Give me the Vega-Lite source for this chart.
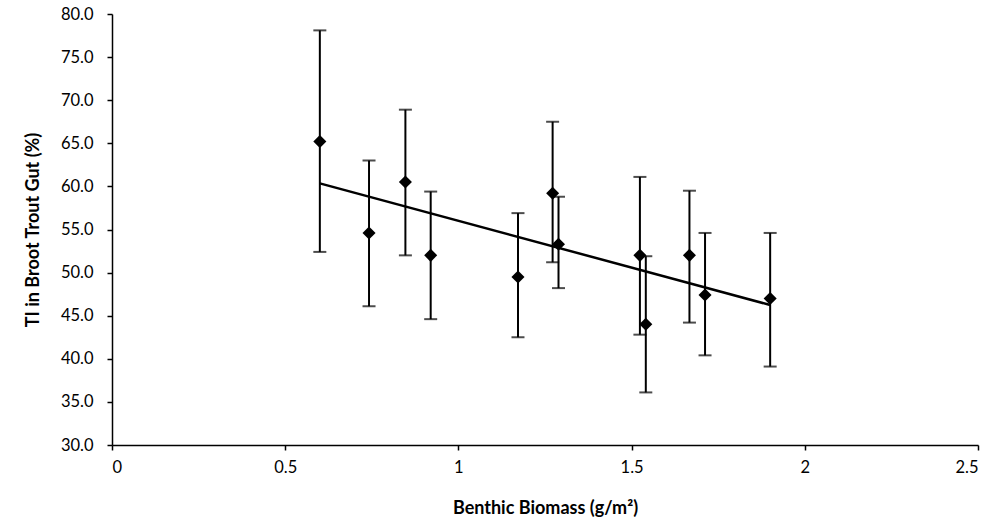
{
  "$schema": "https://vega.github.io/schema/vega-lite/v6.json",
  "width": 866,
  "height": 431,
  "autosize": {"type": "none"},
  "padding": {"left": 112, "top": 14, "right": 13, "bottom": 77},
  "background": "white",
  "config": {
    "view": {"stroke": null},
    "axis": {
      "grid": false,
      "domainColor": "black",
      "domainWidth": 1.5,
      "tickColor": "black",
      "tickWidth": 1.5,
      "tickSize": 5,
      "labelFont": "Lato",
      "labelFontSize": 16.5,
      "labelColor": "#000000",
      "titleFont": "Lato",
      "titleFontSize": 18,
      "titleFontWeight": "bold",
      "titleColor": "#000000"
    }
  },
  "datasets": {
    "points": [
      {"biomass": 0.600, "ti": 65.2, "lo": 52.4, "hi": 78.1},
      {"biomass": 0.742, "ti": 54.6, "lo": 46.1, "hi": 63.0},
      {"biomass": 0.847, "ti": 60.5, "lo": 52.0, "hi": 68.9},
      {"biomass": 0.920, "ti": 52.0, "lo": 44.6, "hi": 59.4},
      {"biomass": 1.172, "ti": 49.5, "lo": 42.5, "hi": 56.9},
      {"biomass": 1.272, "ti": 59.2, "lo": 51.2, "hi": 67.5},
      {"biomass": 1.289, "ti": 53.3, "lo": 48.2, "hi": 58.8},
      {"biomass": 1.524, "ti": 52.0, "lo": 42.8, "hi": 61.1},
      {"biomass": 1.541, "ti": 44.0, "lo": 36.1, "hi": 51.9},
      {"biomass": 1.667, "ti": 52.0, "lo": 44.2, "hi": 59.5},
      {"biomass": 1.712, "ti": 47.4, "lo": 40.4, "hi": 54.6},
      {"biomass": 1.900, "ti": 47.0, "lo": 39.1, "hi": 54.6}
    ],
    "trend": [
      {"biomass": 0.600, "ti": 60.35},
      {"biomass": 1.900, "ti": 46.24}
    ]
  },
  "layer": [
    {
      "data": {"name": "points"},
      "mark": {"type": "rule", "color": "black", "strokeWidth": 2},
      "encoding": {
        "x": {"field": "biomass", "type": "quantitative",
              "scale": {"domain": [0, 2.5], "nice": false},
              "axis": {"values": [0, 0.5, 1, 1.5, 2, 2.5], "format": "~g", "title": "Benthic Biomass (g/m²)", "titlePadding": 24, "labelPadding": 9}},
        "y": {"field": "lo", "type": "quantitative",
              "scale": {"domain": [30, 80], "nice": false, "zero": false},
              "axis": {"values": [30, 35, 40, 45, 50, 55, 60, 65, 70, 75, 80], "format": ".1f", "title": "TI in Broot Trout Gut (%)", "titlePadding": 18, "labelPadding": 14}},
        "y2": {"field": "hi"}
      }
    },
    {
      "data": {"name": "points"},
      "mark": {"type": "tick", "orient": "horizontal", "color": "black", "size": 13, "thickness": 2},
      "encoding": {
        "x": {"field": "biomass", "type": "quantitative"},
        "y": {"field": "lo", "type": "quantitative"}
      }
    },
    {
      "data": {"name": "points"},
      "mark": {"type": "tick", "orient": "horizontal", "color": "black", "size": 13, "thickness": 2},
      "encoding": {
        "x": {"field": "biomass", "type": "quantitative"},
        "y": {"field": "hi", "type": "quantitative"}
      }
    },
    {
      "data": {"name": "trend"},
      "mark": {"type": "line", "color": "black", "strokeWidth": 2.5},
      "encoding": {
        "x": {"field": "biomass", "type": "quantitative"},
        "y": {"field": "ti", "type": "quantitative"}
      }
    },
    {
      "data": {"name": "points"},
      "mark": {"type": "point", "shape": "diamond", "filled": true, "color": "black", "opacity": 1, "size": 170},
      "encoding": {
        "x": {"field": "biomass", "type": "quantitative"},
        "y": {"field": "ti", "type": "quantitative"}
      }
    }
  ]
}
